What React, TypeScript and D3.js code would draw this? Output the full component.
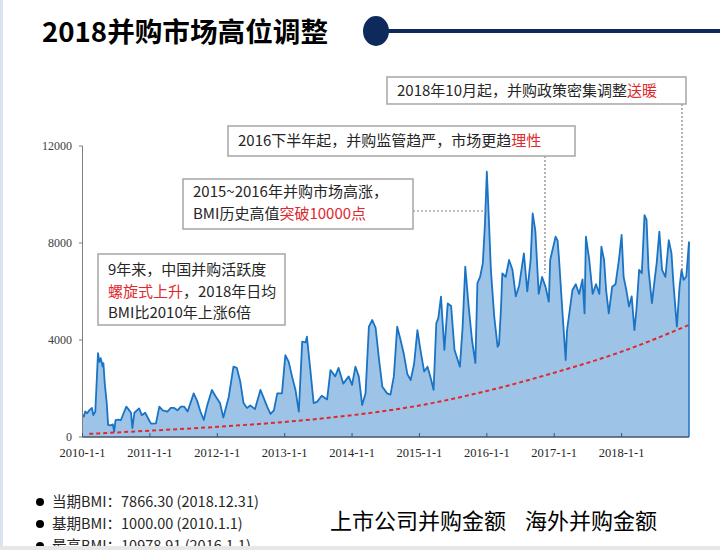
import React from "react";
import * as d3 from "d3";

// ---------- data ----------
const yearTicks = [2010, 2011, 2012, 2013, 2014, 2015, 2016, 2017, 2018];
const yearLabels = ["2010-1-1", "2011-1-1", "2012-1-1", "2013-1-1", "2014-1-1", "2015-1-1", "2016-1-1", "2017-1-1", "2018-1-1"];
const valueTicks = [0, 4000, 8000, 12000];

// BMI series: [decimal year, value]
const bmiSeries: [number, number][] = [
  [2010.0, 900], [2010.02, 840], [2010.04, 1050], [2010.07, 980], [2010.1, 1100], [2010.14, 1200],
  [2010.16, 900], [2010.19, 1050], [2010.23, 3460], [2010.25, 3100], [2010.27, 3250], [2010.3, 2900],
  [2010.31, 3050], [2010.33, 2220], [2010.36, 1400], [2010.38, 500], [2010.42, 480], [2010.45, 520],
  [2010.47, 220], [2010.49, 700], [2010.53, 720], [2010.57, 700], [2010.62, 1050], [2010.65, 1250],
  [2010.68, 1150], [2010.72, 1000], [2010.74, 370], [2010.77, 1000], [2010.84, 1180], [2010.88, 900],
  [2010.93, 1000], [2011.0, 630], [2011.02, 550], [2011.09, 560], [2011.14, 1250], [2011.19, 1100],
  [2011.26, 1050], [2011.31, 1200], [2011.36, 1200], [2011.41, 1100], [2011.46, 1250], [2011.51, 1250],
  [2011.56, 1050], [2011.65, 1800], [2011.7, 1500], [2011.75, 1050], [2011.8, 700], [2011.85, 1300],
  [2011.92, 1940], [2011.97, 1700], [2012.04, 1400], [2012.09, 800], [2012.17, 1650], [2012.24, 2900],
  [2012.29, 2850], [2012.34, 2300], [2012.39, 1400], [2012.44, 1200], [2012.49, 1300], [2012.56, 1150],
  [2012.64, 1940], [2012.69, 1600], [2012.74, 1250], [2012.79, 950], [2012.84, 1100], [2012.89, 1800],
  [2012.96, 1800], [2013.01, 3380], [2013.06, 3100], [2013.11, 2490], [2013.16, 1950], [2013.21, 1045],
  [2013.26, 3930], [2013.31, 3900], [2013.33, 4140], [2013.38, 2800], [2013.43, 1400], [2013.48, 1450],
  [2013.55, 1700], [2013.63, 1550], [2013.68, 2760], [2013.75, 2500], [2013.8, 2850], [2013.87, 2200],
  [2013.95, 2500], [2014.0, 2150], [2014.05, 2900], [2014.1, 2500], [2014.15, 1320], [2014.2, 1800],
  [2014.25, 4550], [2014.3, 4825], [2014.35, 4500], [2014.4, 3200], [2014.45, 2070], [2014.52, 1800],
  [2014.57, 1750], [2014.62, 2500], [2014.67, 4550], [2014.72, 4000], [2014.77, 3400], [2014.82, 2600],
  [2014.87, 2350], [2014.92, 3000], [2014.97, 4410], [2015.02, 3500], [2015.07, 2700], [2015.12, 2900],
  [2015.17, 2400], [2015.21, 1940], [2015.25, 4690], [2015.28, 4900], [2015.32, 5790], [2015.37, 3590],
  [2015.42, 5510], [2015.47, 5400], [2015.52, 3600], [2015.6, 2900], [2015.64, 4500], [2015.68, 7020],
  [2015.73, 5400], [2015.78, 4000], [2015.83, 3050], [2015.86, 6340], [2015.9, 6600], [2015.94, 7160],
  [2015.97, 8670], [2016.0, 10940], [2016.03, 9000], [2016.06, 6890], [2016.11, 4960], [2016.16, 3720],
  [2016.18, 3800], [2016.21, 5300], [2016.23, 6750], [2016.28, 6600], [2016.33, 7300], [2016.38, 6900],
  [2016.43, 5800], [2016.48, 6250], [2016.55, 7575], [2016.6, 6000], [2016.65, 7300], [2016.68, 9220],
  [2016.72, 8500], [2016.77, 5900], [2016.82, 6600], [2016.87, 6200], [2016.92, 5580], [2016.94, 7300],
  [2017.02, 8260], [2017.05, 8100], [2017.07, 7400], [2017.12, 5240], [2017.17, 3175], [2017.19, 4400],
  [2017.27, 6060], [2017.32, 6300], [2017.37, 5900], [2017.42, 6500], [2017.45, 5100], [2017.47, 8260],
  [2017.52, 7300], [2017.57, 5900], [2017.62, 6300], [2017.67, 5900], [2017.7, 7850], [2017.74, 7300],
  [2017.77, 6060], [2017.81, 5100], [2017.86, 6200], [2017.91, 6300], [2017.96, 7300], [2018.0, 8330],
  [2018.03, 6600], [2018.07, 6060], [2018.11, 5380], [2018.15, 5800], [2018.19, 4410], [2018.22, 5240],
  [2018.26, 6890], [2018.3, 6750], [2018.34, 9150], [2018.37, 8950], [2018.4, 6900], [2018.45, 5520],
  [2018.49, 6480], [2018.52, 7160], [2018.56, 8470], [2018.6, 6890], [2018.65, 6600], [2018.7, 8120],
  [2018.74, 7570], [2018.77, 6300], [2018.82, 4550], [2018.86, 6200], [2018.89, 6890], [2018.92, 6480],
  [2018.96, 6620], [2019.0, 8050],
];

// trend (red dashed)
const trendYears = [2010.1, 2011, 2012, 2013, 2014, 2015, 2016, 2017, 2018, 2019];
const trendValues = [130, 260, 420, 620, 900, 1300, 1900, 2650, 3520, 4620];

const title = "2018并购市场高位调整";
const bulletItems = ["当期BMI：7866.30 (2018.12.31)", "基期BMI：1000.00 (2010.1.1)", "最高BMI：10978.91 (2016.1.1)"];
const bottomLabels = ["上市公司并购金额", "海外并购金额"];

const CJK = "'Noto Sans CJK SC', 'Noto Sans', sans-serif";
const SERIF = "'Liberation Serif', 'Times New Roman', serif";
const RED = "#E0282E";
const TXT = "#262626";

export default function App() {
  const x = d3.scaleLinear().domain([2010, 2019]).range([82.5, 689]);
  const y = d3.scaleLinear().domain([0, 12000]).range([437, 146]);

  const area = d3.area<[number, number]>().x((d) => x(d[0])).y0(y(0)).y1((d) => y(d[1]));
  const line = d3.line<[number, number]>().x((d) => x(d[0])).y((d) => y(d[1]));
  const trend = d3
    .line<number>()
    .x((_, i) => x(trendYears[i]))
    .y((d) => y(d))
    .curve(d3.curveMonotoneX);

  const last = bmiSeries[bmiSeries.length - 1];

  return (
    <div style={{ position: "fixed", left: 0, top: 0, width: 720, height: 550, background: "#fff" }}>
      <svg width={720} height={550} style={{ display: "block" }}>
        <rect x={0} y={0} width={720} height={550} fill="#fff" />
        <rect x={0} y={0} width={3} height={550} fill="#DAE3F3" />

        {/* title */}
        <text x={42} y={42} fontFamily={CJK} fontWeight={700} fontSize={27} fill="#000" textLength={286} lengthAdjust="spacingAndGlyphs">
          {title}
        </text>
        <line x1={376} x2={720} y1={31} y2={31} stroke="#0E2A5C" strokeWidth={4} />
        <ellipse cx={376} cy={31} rx={13} ry={15} fill="#0E2A5C" />

        {/* area + line */}
        <path d={area(bmiSeries) || ""} fill="#9DC3E6" />
        <path d={line(bmiSeries) || ""} fill="none" stroke="#1A73C4" strokeWidth={1.8} strokeLinejoin="round" />
        <line x1={x(last[0])} x2={x(last[0])} y1={y(last[1])} y2={y(0)} stroke="#1A73C4" strokeWidth={1.5} />
        <path d={trend(trendValues) || ""} fill="none" stroke={RED} strokeWidth={2} strokeDasharray="4,3" />

        {/* axes */}
        <line x1={82.5} x2={82.5} y1={y(12000)} y2={y(0)} stroke="#7F7F7F" strokeWidth={1} />
        <line x1={82.5} x2={689} y1={y(0)} y2={y(0)} stroke="#44546A" strokeWidth={1.3} />
        {valueTicks.map((v) => (
          <g key={v}>
            <line x1={79} x2={82.5} y1={y(v)} y2={y(v)} stroke="#7F7F7F" />
            <text x={72} y={y(v) + 4} textAnchor="end" fontFamily={SERIF} fontSize={12} fill="#404040">
              {v}
            </text>
          </g>
        ))}
        {yearTicks.map((t, i) => (
          <g key={t}>
            <line x1={x(t)} x2={x(t)} y1={y(0)} y2={y(0) - 4} stroke="#44546A" />
            <text x={x(t)} y={y(0) + 20} textAnchor="middle" fontFamily={SERIF} fontSize={12.5} fill="#262626">
              {yearLabels[i]}
            </text>
          </g>
        ))}

        {/* dotted leader lines */}
        <line x1={682} x2={682} y1={104} y2={272} stroke="#808080" strokeWidth={1.2} strokeDasharray="2,2" />
        <line x1={545} x2={545} y1={156} y2={273} stroke="#808080" strokeWidth={1.2} strokeDasharray="2,2" />
        <line x1={413} x2={487} y1={211} y2={211} stroke="#808080" strokeWidth={1.2} strokeDasharray="2,2" />

        {/* annotation boxes */}
        <rect x={387} y={77} width={299} height={27} fill="#fff" stroke="#A6A6A6" strokeWidth={1.5} />
        <text x={397} y={96} fontFamily={CJK} fontSize={15} fill={TXT}>
          2018年10月起，并购政策密集调整<tspan fill={RED}>送暖</tspan>
        </text>

        <rect x={228} y={126} width={347} height={30} fill="#fff" stroke="#A6A6A6" strokeWidth={1.5} />
        <text x={238} y={146} fontFamily={CJK} fontSize={15} fill={TXT}>
          2016下半年起，并购监管趋严，市场更趋<tspan fill={RED}>理性</tspan>
        </text>

        <rect x={183} y={179} width={230} height={50} fill="#fff" stroke="#A6A6A6" strokeWidth={1.5} />
        <text x={193} y={197} fontFamily={CJK} fontSize={15} fill={TXT}>
          2015~2016年并购市场高涨，
        </text>
        <text x={193} y={219} fontFamily={CJK} fontSize={15} fill={TXT}>
          BMI历史高值<tspan fill={RED}>突破10000点</tspan>
        </text>

        <rect x={98} y={254} width={187} height={71} fill="#fff" stroke="#A6A6A6" strokeWidth={1.5} />
        <text x={108} y={275} fontFamily={CJK} fontSize={15} fill={TXT}>
          9年来，中国并购活跃度
        </text>
        <text x={108} y={297} fontFamily={CJK} fontSize={15} fill={TXT}>
          <tspan fill={RED}>螺旋式上升</tspan>，2018年日均
        </text>
        <text x={108} y={318} fontFamily={CJK} fontSize={15} fill={TXT}>
          BMI比2010年上涨6倍
        </text>

        {/* bottom text */}
        {bulletItems.map((s, i) => (
          <g key={s}>
            <circle cx={40} cy={502 + i * 22} r={4} fill="#000" />
            <text x={52} y={507 + i * 22} fontFamily={CJK} fontSize={14.5} fill={TXT}>
              {s}
            </text>
          </g>
        ))}
        <text x={330} y={529} fontFamily={CJK} fontSize={22} fill="#000">
          {bottomLabels[0]}
        </text>
        <text x={525} y={529} fontFamily={CJK} fontSize={22} fill="#000">
          {bottomLabels[1]}
        </text>
        <rect x={0} y={546} width={720} height={4} fill="#E7E7E7" />
      </svg>
    </div>
  );
}
